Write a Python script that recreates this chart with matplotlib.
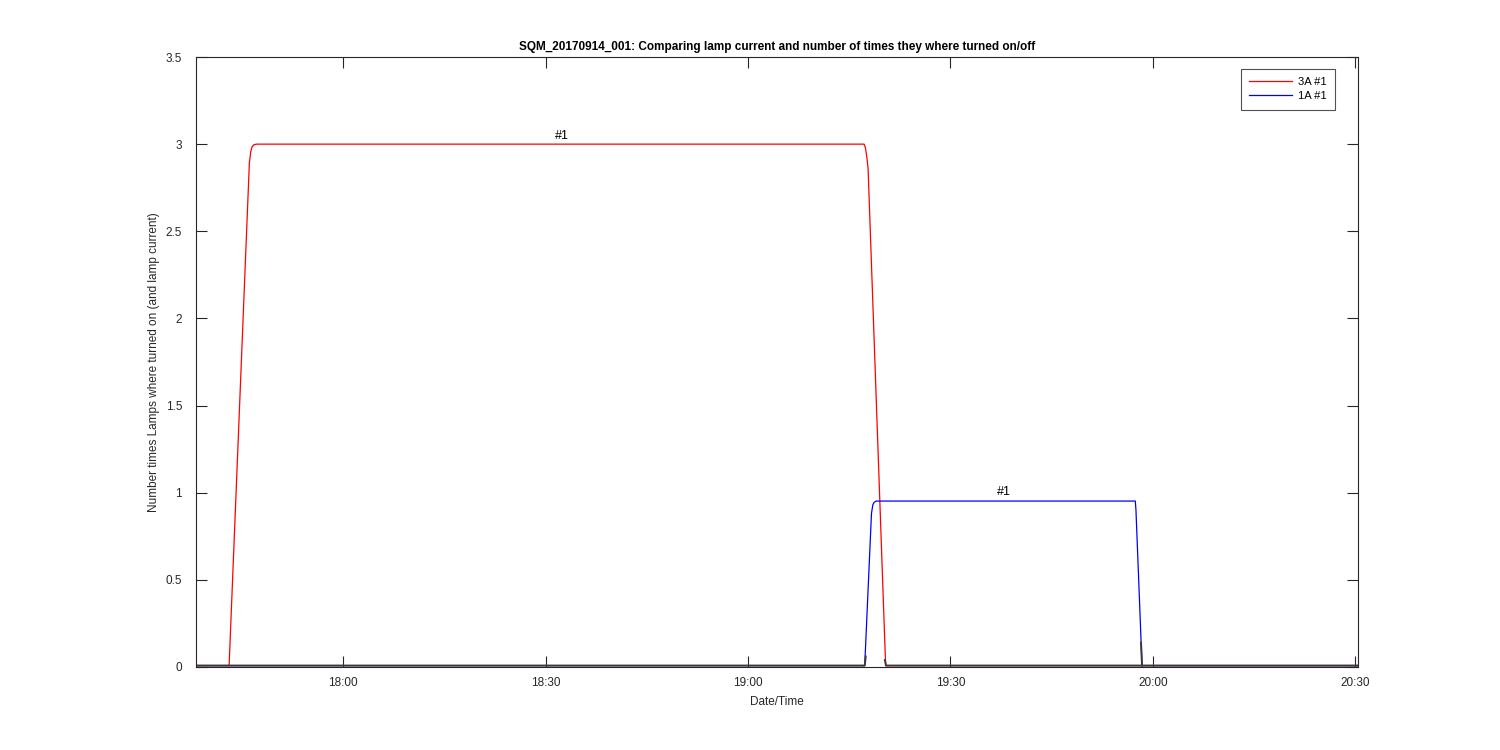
import matplotlib
matplotlib.use("Agg")
import matplotlib.pyplot as plt
import matplotlib.dates as mdates
import numpy as np
import pandas as pd

plt.rcParams['font.family'] = ['Liberation Sans', 'DejaVu Sans']

# 3A lamp current
t_3a = ["17:38:12", "17:43:06", "17:46:06", "17:46:18", "17:46:30", "17:46:48",
        "17:47:12", "19:17:12", "19:17:24", "19:17:36", "19:17:48",
        "19:20:24", "20:30:24"]
v_3a = [0.008, 0.008, 2.89, 2.955, 2.985, 2.997,
        3.0, 3.0, 2.98, 2.93, 2.86,
        0.008, 0.008]

# 1A lamp current
t_1a = ["17:38:12", "19:17:18", "19:18:18", "19:18:30", "19:18:42", "19:19:00",
        "19:57:24", "19:57:30", "19:58:24", "20:30:24"]
v_1a = [0.008, 0.008, 0.88, 0.93, 0.945, 0.952,
        0.952, 0.90, 0.008, 0.008]

# dark "off" trace near zero, gaps as nan
t_off = ["17:38:12", "19:17:18", "19:17:27", "19:17:28",
         "19:20:18", "19:20:27", "19:58:18", "19:58:19",
         "19:58:15", "19:58:24", "20:30:24"]
v_off = [0.008, 0.008, 0.06, np.nan,
         0.04, 0.008, 0.008, np.nan,
         0.14, 0.008, 0.008]

labels = ["3A #1", "1A #1"]
ann_t = ["18:32:30", "19:37:54"]
ann_v = [3.0, 0.952]
ann_txt = ["#1", "#1"]

day = "2017-09-14 "


def to_dt(lst):
    return pd.to_datetime([day + s for s in lst])


fig = plt.figure(figsize=(15, 7.5), dpi=100)
ax = fig.add_axes([0.1307, 0.1107, 0.9053 - 0.1307, 0.924 - 0.1107])

ax.plot(to_dt(t_3a), v_3a, color='#ff0000', lw=0.9, label=labels[0])
ax.plot(to_dt(t_1a), v_1a, color='#0000ff', lw=0.9, label=labels[1])
ax.plot(to_dt(t_off), v_off, color='#3a3a3a', lw=1.4)

for t, v, s in zip(ann_t, ann_v, ann_txt):
    ax.text(pd.to_datetime(day + t), v + 0.015, s, ha='center', va='bottom',
            fontsize=9)

ax.set_xlim(pd.to_datetime(day + "17:38:12"), pd.to_datetime(day + "20:30:24"))
ax.set_ylim(0, 3.5)
ax.set_yticks(np.arange(0, 3.51, 0.5))
ax.set_yticklabels(["0", "0.5", "1", "1.5", "2", "2.5", "3", "3.5"])
ax.xaxis.set_major_locator(mdates.MinuteLocator(byminute=[0, 30]))
ax.xaxis.set_major_formatter(mdates.DateFormatter('%H:%M'))

ax.tick_params(direction='in', length=8, width=0.8, top=True, right=True,
               labelsize=8.5, colors='#262626')
ax.tick_params(axis='x', pad=7)
ax.tick_params(axis='y', pad=10)
for sp in ax.spines.values():
    sp.set_linewidth(0.8)
    sp.set_color('#262626')

ax.set_xlabel("Date/Time", fontsize=8.5, color='#262626', labelpad=5)
ax.set_ylabel("Number times Lamps where turned on (and lamp current)",
              fontsize=8.5, color='#262626', labelpad=4)
ax.set_title("SQM_20170914_001: Comparing lamp current and number of times they where turned on/off",
             fontsize=8.5, fontweight='bold', pad=5)

leg = ax.legend(loc='upper right', bbox_to_anchor=(0.9802, 0.9803), fontsize=8,
                frameon=True, fancybox=False, handlelength=3.9,
                borderpad=0.75, borderaxespad=0, labelspacing=0.35,
                handletextpad=0.5)
leg.get_frame().set_edgecolor('#262626')
leg.get_frame().set_linewidth(0.8)

fig.savefig("out.png", dpi=100)
